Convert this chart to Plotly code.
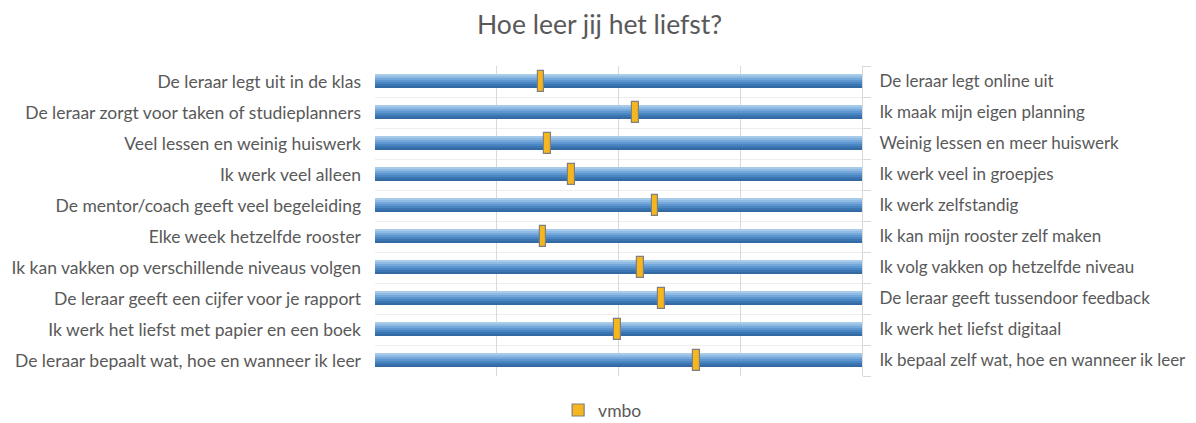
import plotly.graph_objects as go

left_labels = [
    "De leraar legt uit in de klas",
    "De leraar zorgt voor taken of studieplanners",
    "Veel lessen en weinig huiswerk",
    "Ik werk veel alleen",
    "De mentor/coach geeft veel begeleiding",
    "Elke week hetzelfde rooster",
    "Ik kan vakken op verschillende niveaus volgen",
    "De leraar geeft een cijfer voor je rapport",
    "Ik werk het liefst met papier en een boek",
    "De leraar bepaalt wat, hoe en wanneer ik leer",
]
right_labels = [
    "De leraar legt online uit",
    "Ik maak mijn eigen planning",
    "Weinig lessen en meer huiswerk",
    "Ik werk veel in groepjes",
    "Ik werk zelfstandig",
    "Ik kan mijn rooster zelf maken",
    "Ik volg vakken op hetzelfde niveau",
    "De leraar geeft tussendoor feedback",
    "Ik werk het liefst digitaal",
    "Ik bepaal zelf wat, hoe en wanneer ik leer",
]
vmbo = [34.1, 53.5, 35.5, 40.3, 57.5, 34.5, 54.6, 58.8, 49.8, 66.0]
scale_max = [100] * 10
x_ticks = [0, 25, 50, 75, 100]

pos = list(range(len(left_labels)))
text_color = "#595959"
font_family = "Lato, 'Open Sans', sans-serif"

fig = go.Figure()

# gradient bar built from thin strips (light top -> dark bottom)
strip_colors = ["#a9cbea", "#8fbae3", "#75a8da", "#5e97cf", "#4a86c2", "#3b76b2", "#336aa3"]
band = 0.42
n = len(strip_colors)
sw = band / n
for i, c in enumerate(strip_colors):
    fig.add_trace(go.Bar(
        x=scale_max, y=pos, orientation="h",
        width=sw * 1.05, offset=-band / 2 + i * sw,
        marker=dict(color=c, line=dict(width=0)),
        showlegend=False, hoverinfo="skip",
    ))

mw = 1.4
fig.add_trace(go.Bar(
    x=[mw] * len(vmbo), base=[v - mw / 2 for v in vmbo], y=pos, orientation="h",
    width=0.68,
    marker=dict(color="#F6B61E", line=dict(color="#808080", width=1.2)),
    name="vmbo", showlegend=True,
))

yr = [len(pos) - 0.5, -0.5]
fig.update_layout(
    width=1188, height=415,
    margin=dict(l=367, r=334, t=58, b=47, autoexpand=False),
    paper_bgcolor="white", plot_bgcolor="white",
    barmode="overlay", bargap=0,
    title=dict(text="Hoe leer jij het liefst?", x=0.498, xanchor="center", xref="container",
               y=0.959, yref="container", yanchor="middle", automargin=False,
               font=dict(family=font_family, size=26.5, color=text_color)),
    font=dict(family=font_family, size=16, color=text_color),
    xaxis=dict(range=[0, 100], tickvals=x_ticks, showticklabels=False, showgrid=True,
               gridcolor="#d9d9d9", gridwidth=1, zeroline=False, showline=False, fixedrange=True,
               automargin=False),
    yaxis=dict(range=yr, tickvals=pos, ticktext=left_labels, showgrid=False, zeroline=False,
               showline=False, ticks="", ticklabelstandoff=13, automargin=False,
               tickfont=dict(size=17.5, color=text_color),
               minor=dict(tickvals=[p + 0.5 for p in [-1] + pos], showgrid=True,
                          gridcolor="#eeeeee", gridwidth=1, ticks="")),
    yaxis2=dict(range=yr, overlaying="y", side="right", tickvals=pos, ticktext=right_labels,
                showgrid=False, zeroline=False, showline=True, linecolor="#d9d9d9", linewidth=1,
                ticks="", ticklabelstandoff=13, automargin=False,
                tickfont=dict(size=17, color=text_color),
                minor=dict(tickvals=[p + 0.5 for p in [-1] + pos], ticks="outside", ticklen=8,
                           tickcolor="#d9d9d9", showgrid=False)),
    legend=dict(orientation="h", x=0.376, xanchor="left", y=-0.11, yanchor="middle",
                font=dict(size=17.5, color=text_color), itemwidth=30),
    showlegend=True,
)
# invisible trace to activate yaxis2
fig.add_trace(go.Scatter(x=[None], y=[None], yaxis="y2", showlegend=False, hoverinfo="skip"))

fig.write_html("out.html")
